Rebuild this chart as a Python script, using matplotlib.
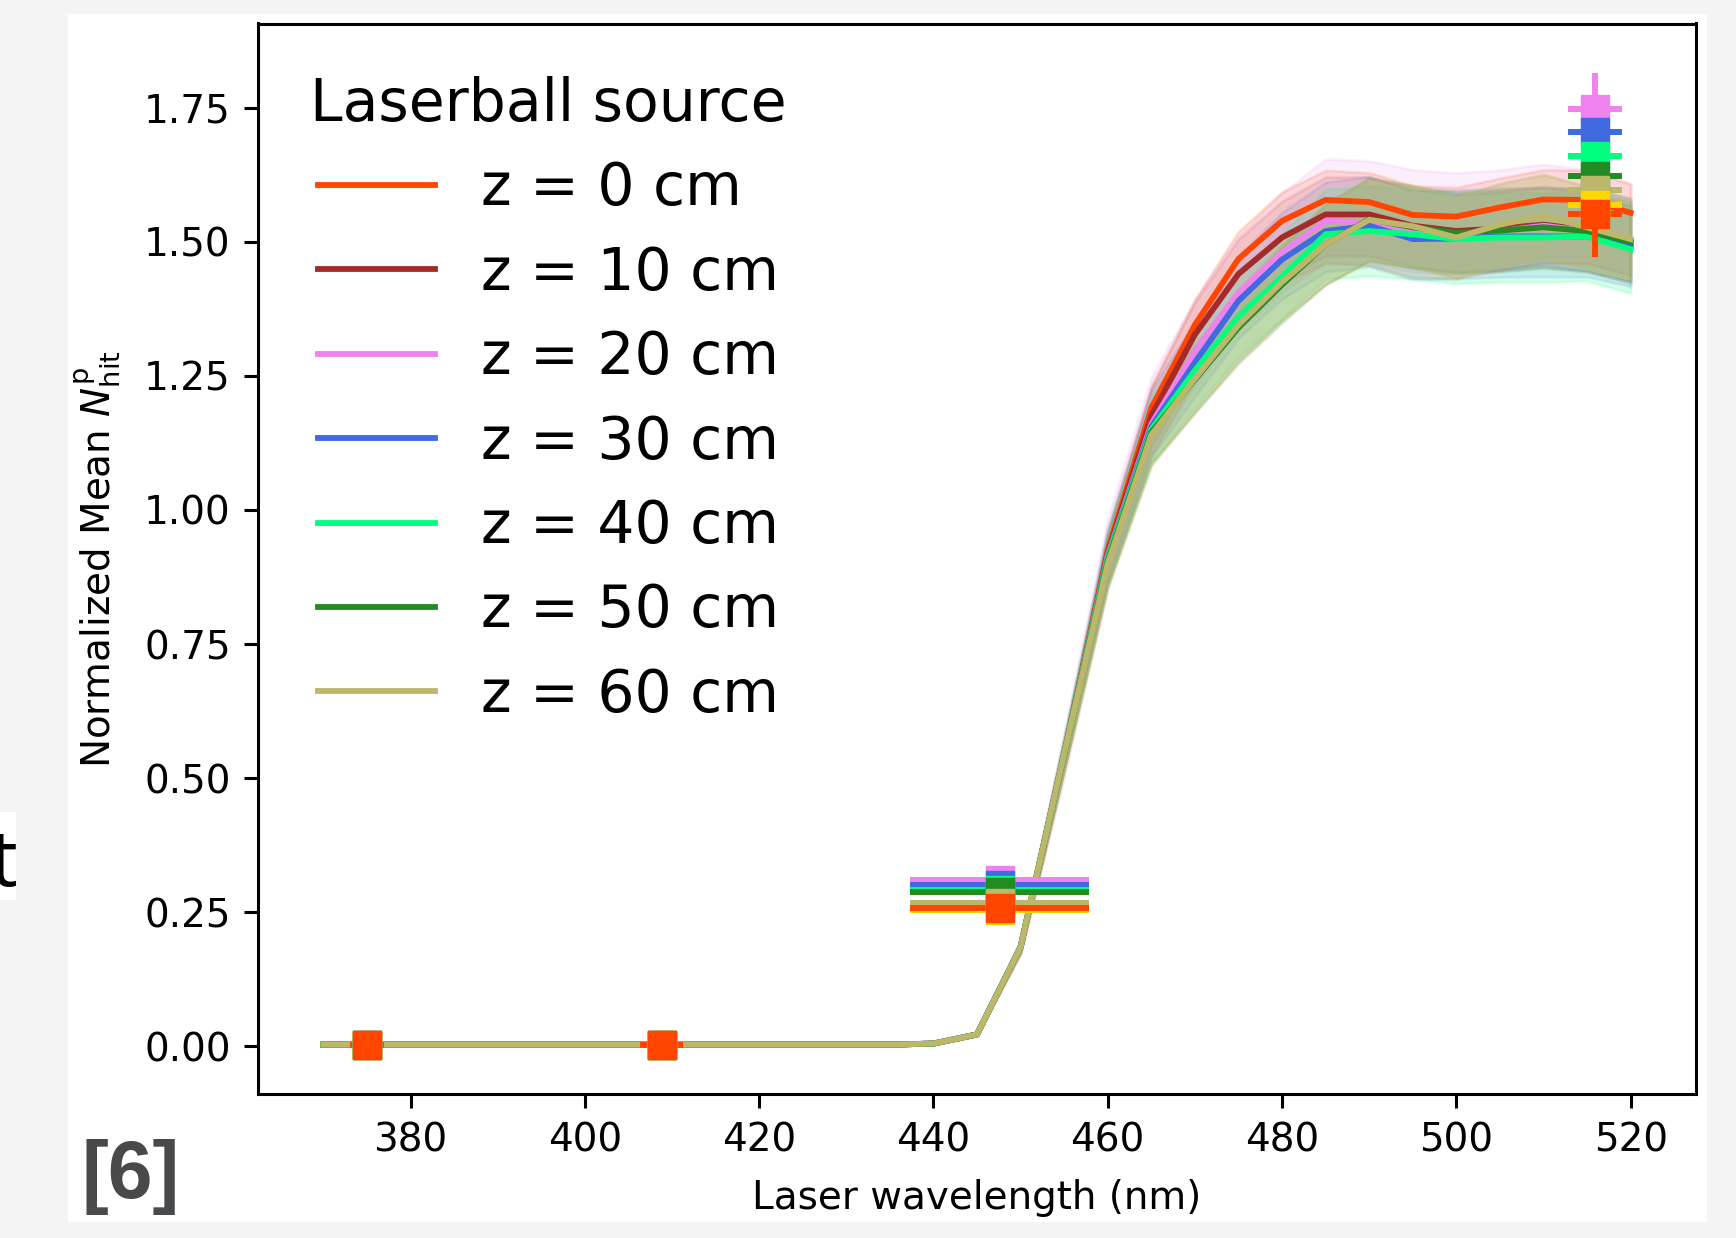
import matplotlib
matplotlib.use("Agg")
import matplotlib.pyplot as plt
import matplotlib.patches as mpatches
import numpy as np

# wavelength scan (nm)
wavelength = [370, 375, 380, 385, 390, 395, 400, 405, 410, 415, 420, 425, 430, 435,
              440, 445, 450, 455, 460, 465, 470, 475, 480, 485, 490, 495, 500, 505,
              510, 515, 520]

# flat low part is identical for every source position
low = [0.003, 0.003, 0.003, 0.003, 0.003, 0.003, 0.003, 0.003, 0.003, 0.003,
       0.003, 0.003, 0.003, 0.003, 0.005, 0.022, 0.185, 0.545]

z0 = low + [0.925, 1.190, 1.345, 1.468, 1.539, 1.578, 1.574, 1.550, 1.547, 1.564, 1.579, 1.578, 1.554]
z10 = low + [0.920, 1.175, 1.327, 1.440, 1.508, 1.551, 1.551, 1.530, 1.520, 1.525, 1.532, 1.522, 1.500]
z20 = low + [0.915, 1.160, 1.296, 1.405, 1.480, 1.539, 1.536, 1.520, 1.515, 1.520, 1.530, 1.520, 1.495]
z30 = low + [0.912, 1.155, 1.275, 1.390, 1.467, 1.520, 1.530, 1.505, 1.506, 1.510, 1.510, 1.510, 1.491]
z40 = low + [0.910, 1.150, 1.260, 1.360, 1.435, 1.514, 1.520, 1.514, 1.505, 1.508, 1.508, 1.510, 1.486]
z50 = low + [0.905, 1.145, 1.243, 1.340, 1.420, 1.495, 1.542, 1.527, 1.517, 1.521, 1.527, 1.520, 1.500]
z60 = low + [0.900, 1.140, 1.245, 1.345, 1.425, 1.495, 1.541, 1.529, 1.508, 1.532, 1.548, 1.527, 1.505]

series = [z0, z10, z20, z30, z40, z50, z60]
labels = ['z = 0 cm', 'z = 10 cm', 'z = 20 cm', 'z = 30 cm', 'z = 40 cm', 'z = 50 cm', 'z = 60 cm']
colors = ['orangered', 'brown', 'violet', 'royalblue', 'springgreen', 'forestgreen', 'darkkhaki']
# relative width of the uncertainty band of each curve (lower, upper)
err_lo = [0.075, 0.05, 0.05, 0.05, 0.055, 0.05, 0.05]
err_hi = [0.035, 0.045, 0.075, 0.06, 0.055, 0.05, 0.05]
band_alpha = [0.15, 0.12, 0.12, 0.12, 0.15, 0.15, 0.35]

# laser measurements (squares with error bars)
meas_nm = [375, 408.8, 447.6, 515.9]
meas_xerr = [2.0, 2.5, 10.3, 3.1]
meas_colors = ['violet', 'royalblue', 'springgreen', 'forestgreen', 'darkkhaki', 'gold', 'orangered']
meas_y = [
    [0.003, 0.003, 0.310, 1.748],
    [0.003, 0.003, 0.300, 1.704],
    [0.003, 0.003, 0.291, 1.660],
    [0.003, 0.003, 0.287, 1.623],
    [0.003, 0.003, 0.267, 1.597],
    [0.003, 0.003, 0.254, 1.569],
    [0.003, 0.003, 0.258, 1.551],
]
meas_yerr = [
    [0.003, 0.003, 0.01, 0.066],
    [0.003, 0.003, 0.01, 0.07],
    [0.003, 0.003, 0.01, 0.07],
    [0.003, 0.003, 0.01, 0.07],
    [0.003, 0.003, 0.01, 0.07],
    [0.003, 0.003, 0.01, 0.07],
    [0.003, 0.003, 0.01, 0.08],
]

fig = plt.figure(figsize=(17.36, 12.38), dpi=100, facecolor='#f4f4f4')
# white slide panel (behind the axes)
fig.patches.append(mpatches.Rectangle((68/1736, 1 - 1222/1238), 1639/1736, 1208/1238,
                                      transform=fig.transFigure, facecolor='white',
                                      edgecolor='none', zorder=-2))
# cropped letter at the left border
fig.patches.append(mpatches.Rectangle((0, 1 - 900/1238), 16/1736, 88/1238,
                                      transform=fig.transFigure, facecolor='white',
                                      edgecolor='none', zorder=-2))
fig.text(-10/1736, 1 - 886/1238, 't', ha='left', va='baseline', fontsize=56,
         family='Open Sans', color='black')
fig.text(81/1736, 1 - 1177/1238, '[6]', ha='left', va='center', fontsize=58,
         family='Liberation Sans', fontweight='bold', color='#48494a')

ax = fig.add_axes([258/1736, 1 - 1094/1238, 1438/1736, 1070.5/1238])

x = np.array(wavelength)
for y, lab, c, lo, hi, a in zip(series, labels, colors, err_lo, err_hi, band_alpha):
    y = np.array(y)
    ax.fill_between(x, y * (1 - lo), y * (1 + hi), color=c, alpha=a, linewidth=2)
    ax.plot(x, y, color=c, lw=4.2, label=lab)

for yv, ye, c in zip(meas_y, meas_yerr, meas_colors):
    ax.errorbar(meas_nm, yv, xerr=meas_xerr, yerr=ye, fmt='s', color=c, ms=20,
                elinewidth=4.3, capsize=0)

ax.set_xlim(362.5, 527.5)
ax.set_ylim(-0.089, 1.907)
ax.set_xticks([380, 400, 420, 440, 460, 480, 500, 520])
ax.set_yticks([0, 0.25, 0.5, 0.75, 1.0, 1.25, 1.5, 1.75])
ax.set_yticklabels(['0.00', '0.25', '0.50', '0.75', '1.00', '1.25', '1.50', '1.75'])
ax.tick_params(labelsize=28, length=9.8, width=2.2, pad=9.8)
for s in ax.spines.values():
    s.set_linewidth(2.2)

ax.set_xlabel('Laser wavelength (nm)', fontsize=28, labelpad=14)
ax.set_ylabel(r'Normalized Mean $N_{\mathrm{hit}}^{\mathrm{p}}$', fontsize=28, labelpad=15)

ax.legend(loc='upper left', frameon=False, title='Laserball source', fontsize=42,
          title_fontsize=42, labelspacing=0.47, handlelength=2.0)

fig.savefig('out.png', dpi=100, facecolor=fig.get_facecolor())
